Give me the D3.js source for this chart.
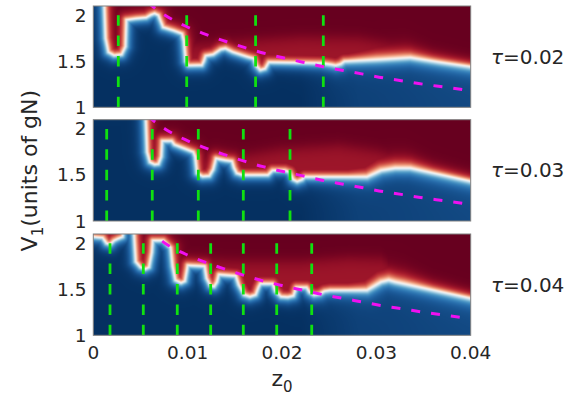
<!DOCTYPE html>
<html>
<head>
<meta charset="utf-8">
<script src="https://cdn.jsdelivr.net/npm/d3@7"></script>
<style>
  body { margin: 0; background: #fff; }
  svg { display: block; }
  text { font-family: "DejaVu Sans", sans-serif; fill: #262626; }
</style>
</head>
<body>
<svg id="chart" width="572" height="399"></svg>
<script>
// ---- data -------------------------------------------------------------
const tauLabels = ["0.02", "0.03", "0.04"];
const xTicks = [0, 0.01, 0.02, 0.03, 0.04];
const xTickLabels = ["0", "0.01", "0.02", "0.03", "0.04"];
const yTicks = [1, 1.5, 2];
const yTickLabels = ["1", "1.5", "2"];

// red/blue transition curve (z0, V1) for each tau
const boundaryTau002 = [
  [0, 2.3], [0.0011, 2.3], [0.0013, 1.75], [0.0016, 1.60], [0.0022, 1.565], [0.0030, 1.575],
  [0.0034, 1.66], [0.0035, 1.95], [0.0045, 1.965], [0.0056, 1.975], [0.0061, 2.005], [0.0065, 2.02],
  [0.0069, 2.0], [0.0074, 1.87], [0.0085, 1.835], [0.0094, 1.80], [0.0096, 1.72], [0.0098, 1.50],
  [0.0101, 1.455], [0.0115, 1.458], [0.0117, 1.50], [0.0119, 1.56], [0.0127, 1.575], [0.0135, 1.63],
  [0.0140, 1.64], [0.0148, 1.60], [0.0163, 1.55], [0.0170, 1.53], [0.0173, 1.45], [0.0177, 1.405],
  [0.0182, 1.42], [0.0186, 1.49], [0.0242, 1.48], [0.0252, 1.465], [0.0257, 1.455], [0.0262, 1.47],
  [0.0266, 1.50], [0.0304, 1.52], [0.0336, 1.54], [0.0367, 1.49], [0.0401, 1.44]
];
const boundaryTau003 = [
  [0, 2.3], [0.0055, 2.3], [0.0057, 1.75], [0.0060, 1.64], [0.0065, 1.615], [0.0069, 1.62],
  [0.0072, 1.70], [0.0073, 1.87], [0.0083, 1.87], [0.0086, 1.83], [0.0106, 1.75], [0.0108, 1.70],
  [0.0110, 1.52], [0.0116, 1.485], [0.0123, 1.49], [0.0127, 1.56], [0.0130, 1.68], [0.0140, 1.66],
  [0.0147, 1.65], [0.0149, 1.58], [0.0152, 1.52], [0.0158, 1.50], [0.0185, 1.50], [0.0190, 1.55],
  [0.0203, 1.55], [0.0208, 1.53], [0.0212, 1.45], [0.0216, 1.43], [0.0221, 1.45], [0.0224, 1.48],
  [0.0290, 1.48], [0.0305, 1.55], [0.0320, 1.575], [0.0336, 1.575], [0.0401, 1.43]
];
const boundaryTau004 = [
  [0, 2.07], [0.0010, 2.06], [0.0014, 2.0], [0.0018, 1.99], [0.0022, 2.03], [0.0026, 2.05],
  [0.0031, 2.07], [0.0033, 2.3], [0.0042, 2.3], [0.0045, 1.80], [0.0050, 1.74], [0.0055, 1.72],
  [0.0059, 1.74], [0.0062, 1.90], [0.0063, 2.03], [0.0074, 2.03], [0.0082, 1.95], [0.0084, 1.75],
  [0.0087, 1.60], [0.0093, 1.57], [0.0097, 1.59], [0.0099, 1.70], [0.0100, 1.76], [0.0118, 1.75],
  [0.0120, 1.62], [0.0124, 1.54], [0.0128, 1.53], [0.0131, 1.58], [0.0133, 1.66], [0.0151, 1.645],
  [0.0154, 1.55], [0.0160, 1.44], [0.0166, 1.42], [0.0172, 1.44], [0.0175, 1.52], [0.0177, 1.56],
  [0.0190, 1.56], [0.0193, 1.48], [0.0199, 1.42], [0.0206, 1.415], [0.0212, 1.43], [0.0215, 1.52],
  [0.0226, 1.52], [0.0229, 1.47], [0.0234, 1.44], [0.0240, 1.45], [0.0245, 1.48], [0.0251, 1.49],
  [0.0290, 1.49], [0.0305, 1.58], [0.0313, 1.60], [0.0320, 1.58], [0.0401, 1.40]
];

// upper edge of the medium-red zone above the transition (0 = none)
const haloTau002 = [[0, 0], [0.0095, 0], [0.0105, 1.68], [0.016, 1.72], [0.022, 1.76], [0.028, 1.75],
  [0.032, 1.68], [0.0345, 1.60], [0.036, 1.55], [0.037, 0], [0.04, 0]];
const haloTau003 = [[0, 0], [0.0105, 0], [0.0115, 1.70], [0.016, 1.71], [0.020, 1.78], [0.026, 1.82],
  [0.030, 1.76], [0.033, 1.68], [0.035, 1.62], [0.0365, 0], [0.04, 0]];
const haloTau004 = [[0, 0], [0.0085, 0], [0.0095, 1.82], [0.016, 1.80], [0.022, 1.80], [0.027, 1.84],
  [0.0305, 1.83], [0.0312, 1.78], [0.0316, 0], [0.04, 0]];

// transition widths (px) on the red and blue sides, and blue-side lift along z0
const redSoftness = [[0, 3.9], [0.027, 3.9], [0.030, 5.8], [0.033, 5.8], [0.036, 4.2], [0.04, 3.6]];
const blueSoftness = [[0, 3.7], [0.026, 3.7], [0.03, 4.0], [0.04, 3.7]];
const blueFar = [[0, 0], [0.022, 0], [0.028, 0.03], [0.04, 0.045]];
const blueBand = [[0, 0], [0.02, 0], [0.026, 0.08], [0.04, 0.10]];

// green dashed guide lines (z0) per tau
const guidesTau002 = [0.00265, 0.0099, 0.0172, 0.02438];
const guidesTau003 = [0.00142, 0.00625, 0.01113, 0.0159, 0.02085];
const guidesTau004 = [0.00177, 0.0053, 0.0089, 0.01244, 0.0159, 0.01944, 0.02315];

// magenta reference curve
const refZ = [0.0058, 0.0076, 0.0098, 0.0117, 0.0139, 0.0160, 0.0180, 0.0200, 0.0222, 0.0244,
  0.0265, 0.0286, 0.0307, 0.0329, 0.0350, 0.0372, 0.0400];
const refV = [2.135, 2.00, 1.88, 1.80, 1.72, 1.65, 1.59, 1.54, 1.49, 1.44,
  1.40, 1.36, 1.32, 1.285, 1.25, 1.22, 1.18];
const refStart = [0.0058, 0.0058, 0.0073];

const panels = [
  { tau: tauLabels[0], boundary: boundaryTau002, halo: haloTau002, guides: guidesTau002 },
  { tau: tauLabels[1], boundary: boundaryTau003, halo: haloTau003, guides: guidesTau003 },
  { tau: tauLabels[2], boundary: boundaryTau004, halo: haloTau004, guides: guidesTau004 }
];

// ---- layout -----------------------------------------------------------
const left = 93.3, right = 470.7;
const panelTops = [6, 119.7, 234];
const panelH = 101.3;

const svg = d3.select("#chart");
const x = d3.scaleLinear().domain([0, 0.04]).range([left, right]);

const tableScale = tbl => d3.scaleLinear()
  .domain(tbl.map(d => d[0])).range(tbl.map(d => d[1])).clamp(true);
const redSoftAt = tableScale(redSoftness);
const blueSoftAt = tableScale(blueSoftness);
const farAt = tableScale(blueFar);
const bandAt = tableScale(blueBand);

// RdBu lookup (t = 1 red, t = 0 blue)
const lut = d3.range(1001).map(k => d3.rgb(d3.interpolateRdBu(1 - k / 1000)));

function segDist(px, py, ax, ay, bx, by) {
  const dx = bx - ax, dy = by - ay;
  const L = dx * dx + dy * dy;
  let t = L ? ((px - ax) * dx + (py - ay) * dy) / L : 0;
  t = Math.max(0, Math.min(1, t));
  const ex = ax + t * dx - px, ey = ay + t * dy - py;
  return Math.sqrt(ex * ex + ey * ey);
}

const defs = svg.append("defs");

panels.forEach((p, pi) => {
  const top = panelTops[pi];
  const y = d3.scaleLinear().domain([1, 2.1]).range([top + panelH, top]);
  const haloAt = tableScale(p.halo);

  // field raster
  const cw = Math.round(right - left), ch = Math.round(panelH);
  const sx = (right - left) / cw, sy = panelH / ch;
  const canvas = document.createElement("canvas");
  canvas.width = cw; canvas.height = ch;
  const ctx = canvas.getContext("2d");
  const img = ctx.createImageData(cw, ch);
  const pts = p.boundary.map(([z, v]) => [x(z) - left, y(v) - top]);

  for (let i = 0; i < cw; i++) {
    const px = (i + 0.5) * sx;
    const z = x.invert(px + left);
    // boundary height at this column
    let yb = pts[pts.length - 1][1];
    for (let k = 0; k < pts.length - 1; k++) {
      if (px >= pts[k][0] && px <= pts[k + 1][0]) {
        const w = pts[k + 1][0] - pts[k][0];
        const f = w > 0 ? (px - pts[k][0]) / w : 0;
        yb = pts[k][1] + f * (pts[k + 1][1] - pts[k][1]);
        break;
      }
    }
    const sr = redSoftAt(z), sb = blueSoftAt(z);
    const hv = haloAt(z);
    const hy = hv > 1 ? y(hv) - top : 1e9;
    const bf = farAt(z), bb = bandAt(z);
    for (let j = 0; j < ch; j++) {
      const py = (j + 0.5) * sy;
      let d = 1e9;
      for (let k = 0; k < pts.length - 1; k++) {
        if (Math.min(pts[k][0], pts[k + 1][0]) - px > 40 || px - Math.max(pts[k][0], pts[k + 1][0]) > 40) continue;
        const dd = segDist(px, py, pts[k][0], pts[k][1], pts[k + 1][0], pts[k + 1][1]);
        if (dd < d) d = dd;
      }
      let t;
      if (py < yb) {
        t = 1 - 0.5 * Math.exp(-d / sr);
        // medium red below the halo edge, dark red above it
        const a = py - hy;
        const cap = 1 - 0.075 / (1 + Math.exp(-a / 4));
        t = Math.min(t, cap);
      } else {
        t = bf + bb * Math.exp(-d / 8) + (0.5 - bf - bb) * Math.exp(-d / sb);
      }
      const c = lut[Math.max(0, Math.min(1000, Math.round(t * 1000)))];
      const o = (j * cw + i) * 4;
      img.data[o] = c.r; img.data[o + 1] = c.g; img.data[o + 2] = c.b; img.data[o + 3] = 255;
    }
  }
  ctx.putImageData(img, 0, 0);

  const g = svg.append("g");
  g.append("image")
    .attr("x", left).attr("y", top)
    .attr("width", right - left).attr("height", panelH)
    .attr("preserveAspectRatio", "none")
    .attr("href", canvas.toDataURL());

  const clipId = "clip" + pi;
  defs.append("clipPath").attr("id", clipId)
    .append("rect").attr("x", left).attr("y", top)
    .attr("width", right - left).attr("height", panelH);

  // green guides
  g.selectAll("line.guide").data(p.guides).join("line")
    .attr("class", "guide")
    .attr("x1", d => x(d)).attr("x2", d => x(d))
    .attr("y1", y(2.0)).attr("y2", y(1.0))
    .attr("stroke", "#10e010").attr("stroke-width", 2.8)
    .attr("stroke-dasharray", "10.5,9.9");

  // magenta reference curve
  const refPts = refZ.map((z, k) => [z, refV[k]]).filter(d => d[0] >= refStart[pi]);
  if (refPts[0][0] > refStart[pi]) {
    const iv = d3.scaleLinear().domain(refZ).range(refV);
    refPts.unshift([refStart[pi], iv(refStart[pi])]);
  }
  g.append("path")
    .attr("clip-path", `url(#${clipId})`)
    .attr("d", d3.line().x(d => x(d[0])).y(d => y(d[1])).curve(d3.curveMonotoneX)(refPts))
    .attr("fill", "none").attr("stroke", "#f010f0").attr("stroke-width", 3)
    .attr("stroke-dasharray", "9,11");

  // frame
  g.append("rect")
    .attr("x", left).attr("y", top).attr("width", right - left).attr("height", panelH)
    .attr("fill", "none").attr("stroke", "#808080").attr("stroke-width", 1);

  // y tick labels
  g.selectAll("text.ytick").data(yTicks).join("text")
    .attr("class", "ytick")
    .attr("x", 86.5).attr("y", d => y(d))
    .attr("text-anchor", "end").attr("dominant-baseline", "central")
    .attr("font-size", 18.5)
    .text((d, k) => yTickLabels[k]);

  // tau label
  const tl = g.append("text")
    .attr("x", 491).attr("y", top + panelH / 2)
    .attr("dominant-baseline", "central").attr("font-size", 20);
  tl.append("tspan").attr("font-style", "italic").text("τ");
  tl.append("tspan").text("=" + p.tau);

  if (pi === panels.length - 1) {
    svg.selectAll("text.xtick").data(xTicks).join("text")
      .attr("class", "xtick")
      .attr("x", d => x(d)).attr("y", top + panelH + 17)
      .attr("text-anchor", "middle").attr("dominant-baseline", "central")
      .attr("font-size", 18.5)
      .text((d, k) => xTickLabels[k]);
  }
});

// axis titles
const xl = svg.append("text")
  .attr("x", (left + right) / 2).attr("y", 386)
  .attr("text-anchor", "middle").attr("font-size", 22);
xl.append("tspan").text("z");
xl.append("tspan").attr("font-size", 15).attr("dy", 6).text("0");

const yl = svg.append("text")
  .attr("transform", `translate(37,${(panelTops[0] + panelTops[2] + panelH) / 2}) rotate(-90)`)
  .attr("text-anchor", "middle").attr("font-size", 22);
yl.append("tspan").text("V");
yl.append("tspan").attr("font-size", 15).attr("dy", 6).text("1");
yl.append("tspan").attr("dy", -6).text("(units of gN)");
</script>
</body>
</html>
